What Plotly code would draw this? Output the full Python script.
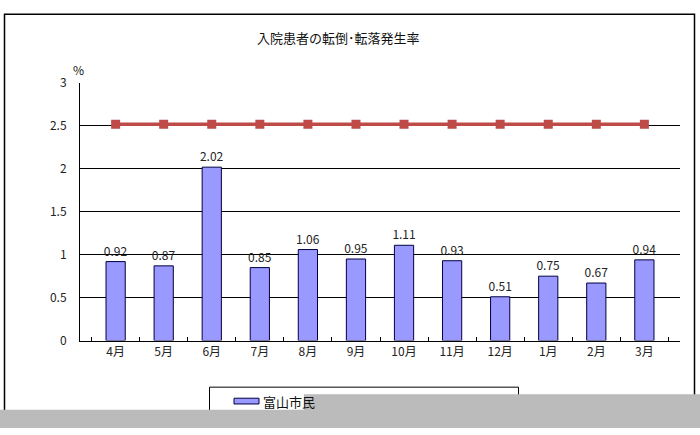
import plotly.graph_objects as go

months = ["4月", "5月", "6月", "7月", "8月", "9月", "10月", "11月", "12月", "1月", "2月", "3月"]
fall_rate = [0.92, 0.87, 2.02, 0.85, 1.06, 0.95, 1.11, 0.93, 0.51, 0.75, 0.67, 0.94]
ref_rate = [2.52] * 12
title_text = "入院患者の転倒･転落発生率"
legend_text = "富山市民"

W, H = 700, 435
font = "Noto Sans CJK JP, Noto Sans, sans-serif"


def px(x):
    return x / W


def py(y):
    return 1 - y / H


def note(text, x, y, size, xanchor="center"):
    return dict(text=text, x=px(x), y=py(y), xref="paper", yref="paper",
                xanchor=xanchor, yanchor="middle", showarrow=False,
                font=dict(size=size, color="#111"))


fig = go.Figure()
fig.add_trace(go.Bar(x=months, y=fall_rate,
                     marker=dict(color="#9999FF", line=dict(color="#000040", width=1)),
                     text=[f"{v:.2f}" for v in fall_rate], textposition="outside",
                     constraintext="none",
                     textfont=dict(size=12, color="#222"), cliponaxis=False,
                     showlegend=False))
fig.add_trace(go.Scatter(x=months, y=ref_rate, mode="lines+markers",
                         line=dict(color="#BE4B48", width=3.5),
                         marker=dict(symbol="square", size=9, color="#BE4B48"),
                         showlegend=False))

fig.update_layout(
    width=W, height=H,
    margin=dict(l=0, r=0, t=0, b=0),
    paper_bgcolor="white", plot_bgcolor="white",
    font=dict(family=font, size=12, color="#222"),
    bargap=0.6,
    xaxis=dict(domain=[px(80), px(680)], showline=True, linecolor="black", linewidth=1,
               ticks="inside", ticklen=4, tickcolor="black", tickson="boundaries",
               showgrid=False, tickfont=dict(size=12)),
    yaxis=dict(domain=[py(344), py(76)], range=[0, 3], dtick=0.5, showline=True,
               linecolor="black", linewidth=1, gridcolor="black", gridwidth=1,
               zeroline=False, ticks="", ticklabelstandoff=10, tickfont=dict(size=12)),
    annotations=[
        note(title_text, 338, 29, 13),
        note("%", 78, 62, 12),
        note(legend_text, 261, 407, 13, xanchor="left"),
    ],
    shapes=[
        # outer chart frame
        dict(type="rect", xref="paper", yref="paper", x0=px(4.5), x1=px(694.5),
             y0=py(430), y1=py(4.5), line=dict(color="black", width=1.5), layer="below"),
        # legend box and swatch
        dict(type="rect", xref="paper", yref="paper", x0=px(209.5), x1=px(518.5),
             y0=py(430), y1=py(392.5), line=dict(color="black", width=1), layer="below"),
        dict(type="rect", xref="paper", yref="paper", x0=px(234), x1=px(259),
             y0=py(410), y1=py(404), fillcolor="#9999FF",
             line=dict(color="#000040", width=1), layer="below"),
        # grey strip at bottom of screenshot
        dict(type="path", xref="paper", yref="paper",
             path=(f"M 0,{py(416)} L {px(304)},{py(416)} L {px(304)},{py(400)} "
                   f"L 1,{py(400)} L 1,0 L 0,0 Z"),
             fillcolor="#BBBBBB", line=dict(width=0), layer="above"),
    ],
)

fig.write_html("out.html", config={"displayModeBar": False},
               post_script="document.body.style.margin='0';")
